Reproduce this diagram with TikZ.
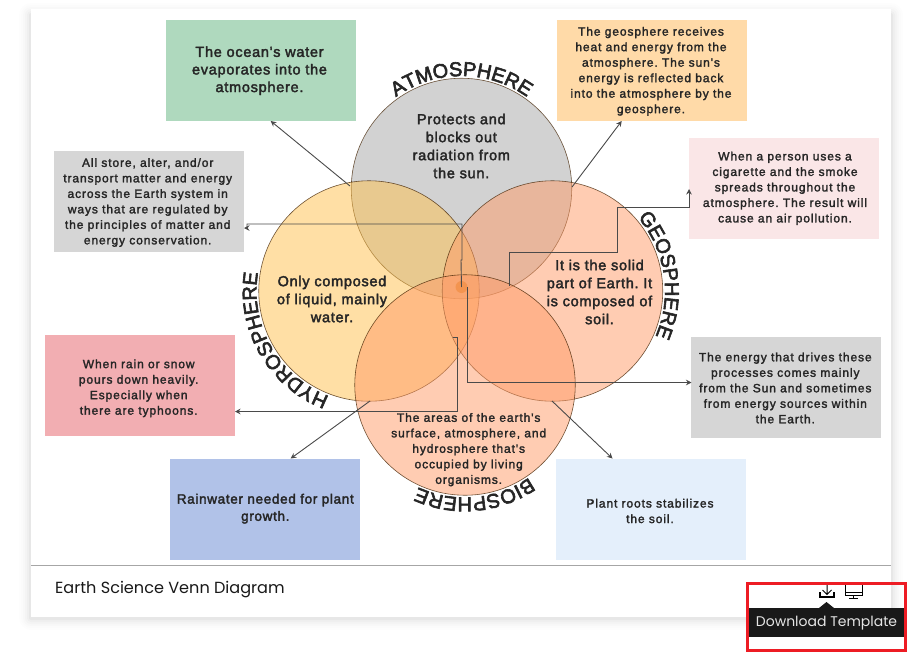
\documentclass[tikz,border=0pt]{standalone}
\usepackage{fontspec}
\setmainfont{Liberation Sans}
\newfontfamily\pop{Poppins}
\newfontfamily\stxt[LetterSpace=7.5,FakeBold=2]{Liberation Sans}
\newfontfamily\btxt[LetterSpace=5,FakeBold=2.5]{Liberation Sans}
\newfontfamily\arcf[FakeBold=3]{Liberation Sans}
\usetikzlibrary{arrows.meta,decorations.text,calc}
\definecolor{ink}{HTML}{262626}
\definecolor{wirec}{HTML}{4A4A4A}
\definecolor{bgreen}{HTML}{AFD9BE}
\definecolor{borange}{HTML}{FFDAA8}
\definecolor{bpink}{HTML}{FAE6E7}
\definecolor{bgrey}{HTML}{D6D6D6}
\definecolor{bred}{HTML}{F2AEB2}
\definecolor{bblue}{HTML}{B1C2E8}
\definecolor{bsky}{HTML}{E4EFFB}
\definecolor{catm}{HTML}{A7A7A7}
\definecolor{chyd}{HTML}{FFC14D}
\definecolor{cgeo}{HTML}{FF9B67}
\definecolor{cdot}{HTML}{F08A3C}
\frenchspacing
\newcommand{\bigtxt}{\btxt\fontsize{14.5}{17.6}\selectfont}
\newcommand{\midtxt}{\btxt\fontsize{14.5}{18}\selectfont}
\newcommand{\smalltxt}{\stxt\fontsize{12}{15.5}\selectfont}
\tikzset{x=1pt,y=1pt,
  infobox/.style={inner sep=0pt,text=ink,align=center,minimum width=190pt,minimum height=101pt},
  venn/.style={circle,inner sep=0pt,minimum size=220.5pt,draw=black!75!orange,line width=.6pt,fill opacity=.5,draw opacity=.75},
  venntext/.style={inner sep=0pt,text=ink,align=center},
  wire/.style={draw=wirec,line width=.9pt,-{Stealth[length=5.5pt,width=5.5pt]}},
  arctext/.style={decorate,decoration={text along path,text align=center,text={|\arcf\fontsize{20}{20}\selectfont\color{ink}|#1}}}
}
\begin{document}
\begin{tikzpicture}
\useasboundingbox (0,-656) rectangle (921,0);
\fill[white] (0,-656) rectangle (921,0);
% card and its soft shadow
\foreach \d/\o in {12/.006,10/.008,8/.01,6/.014,4/.02,2/.03}{
  \fill[black,opacity=\o,rounded corners=\d pt] (31-\d,-9+\d-6) rectangle (891+\d,-617-\d-1);
}
\fill[white] (31,-617) rectangle (891,-9);
\draw[black!35,line width=1pt] (31,-565.5) -- (891,-565.5);
\node[anchor=west,inner sep=0pt,font=\pop\fontsize{16.1}{16}\selectfont,text=black!90] (title) at (55,-590) {Earth Science Venn Diagram};

% boxes
\node[infobox,fill=bgreen] (ocean) at (261,-70.5) {};
\node[infobox,fill=borange] (sun) at (651.5,-70.5) {};
\node[infobox,fill=bpink] (smoke) at (784,-188.5) {};
\node[infobox,fill=bgrey] (store) at (149,-201.5) {};
\node[infobox,fill=bred] (rain) at (140,-385.5) {};
\node[infobox,fill=bgrey] (energy) at (786,-387.5) {};
\node[infobox,fill=bblue] (plant) at (265,-509.5) {};
\node[infobox,fill=bsky] (roots) at (651,-509.5) {};

% circles
\node[venn,fill=catm] (atm) at (461.5,-188.5) {};
\node[venn,fill=chyd] (hyd) at (369,-291) {};
\node[venn,fill=cgeo] (geo) at (552.5,-291) {};
\node[venn,fill=cgeo] (bio) at (465,-385) {};
\node[circle,fill=cdot,fill opacity=.6,minimum size=12pt,inner sep=0pt] (dot) at (461.5,-287) {};

% arc titles
\path[arctext=ATMOSPHERE] ($(atm)+(129:112.5)$) arc[start angle=129,end angle=51,radius=112.5];
\path[arctext=GEOSPHERE] ($(geo)+(41:112.5)$) arc[start angle=41,end angle=-24,radius=112.5];
\path[arctext=HYDROSPHERE] ($(hyd)+(250:112.5)$) arc[start angle=250,end angle=170,radius=112.5];
\path[arctext=BIOSPHERE] ($(bio)+(305:112.5)$) arc[start angle=305,end angle=245,radius=112.5];

% connectors
\coordinate (oceanfoot) at (270.7,-121);
\coordinate (sunfoot) at (621.7,-121);
\coordinate (plantfoot) at (290.7,-458.5);
\coordinate (rootsfoot) at (612.5,-458.5);
\coordinate (smoketip) at (689,-189);
\coordinate (storetip) at (244,-228);
\coordinate (raintip) at (235,-411.5);
\coordinate (energytip) at (691.5,-382.5);
\coordinate (atmhyd) at (350,-186);
\coordinate (atmgeo) at (572,-187);
\coordinate (hydbio) at (370,-401);
\coordinate (geobio) at (552,-401);
\draw[wire] (atmhyd) -- (oceanfoot);
\draw[wire] (atmgeo) -- (sunfoot);
\draw[wire] (hydbio) -- (plantfoot);
\draw[wire] (geobio) -- (rootsfoot);
\draw[wire] (dot.center) -- (461,-260) -- (462,-260) -- (462,-224) -- (247,-224) -- (247,-228) -- (storetip);
\draw[wire] (509,-286) -- (509,-252) -- (617,-252) -- (617,-207) -- (689,-207) -- (smoketip);
\draw[wire] (467,-287) -- (467,-382.5) -- (energytip);
\draw[wire] (453,-337) -- (457,-337) -- (457,-411.5) -- (raintip);

% texts
\node[venntext,font=\midtxt] (t1) at (461.3,-146) {Protects and\\blocks out\\radiation from\\the sun.};
\node[venntext,font=\midtxt] (t2) at (332,-299) {Only composed\\of liquid, mainly\\water.};
\node[venntext,font=\midtxt] (t3) at (599.5,-292) {It is the solid\\part of Earth. It\\is composed of\\soil.};
\node[venntext,font=\smalltxt] (t4) at (468.7,-449.7) {The areas of the earth's\\surface, atmosphere, and\\hydrosphere that's\\occupied by living\\organisms.};
\node[venntext,font=\bigtxt] (t5) at (259.5,-70.7) {The ocean's water\\evaporates into the\\atmosphere.};
\node[venntext,font=\smalltxt] (t6) at (651,-71.3) {The geosphere receives\\heat and energy from the\\atmosphere. The sun's\\energy is reflected back\\into the atmosphere by the\\geosphere.};
\node[venntext,font=\smalltxt] (t7) at (785,-188.3) {When a person uses a\\cigarette and the smoke\\spreads throughout the\\atmosphere. The result will\\cause an air pollution.};
\node[venntext,font=\smalltxt] (t8) at (147.7,-202.5) {All store, alter, and/or\\transport matter and energy\\across the Earth system in\\ways that are regulated by\\the principles of matter and\\energy conservation.};
\node[venntext,font=\smalltxt] (t9) at (138.7,-388.3) {When rain or snow\\pours down heavily.\\Especially when\\there are typhoons.};
\node[venntext,font=\smalltxt] (t10) at (785.3,-388) {The energy that drives these\\processes comes mainly\\from the Sun and sometimes\\from energy sources within\\the Earth.};
\node[venntext,font=\btxt\fontsize{13.5}{17.2}\selectfont] (t11) at (265.3,-508.7) {Rainwater needed for plant\\growth.};
\node[venntext,font=\smalltxt] (t12) at (650,-511) {Plant roots stabilizes\\the soil.};

% toolbar icons
\draw[black,line width=1pt] (827,-583) -- (827,-594) (822.5,-590) -- (827,-594.5) -- (831.5,-590);
\draw[black,line width=1.2pt] (820,-592) -- (820,-597) -- (834,-597) -- (834,-592);
\draw[black,line width=1pt] (845,-583) rectangle (862,-595);
\draw[black,line width=1pt] (845,-592) -- (862,-592) (853.5,-595) -- (853.5,-598) (849,-598) -- (858,-598);
% tooltip
\fill[black!90] (826.5,-602) -- (819,-608) -- (834,-608) -- cycle;
\fill[black!90] (748,-637) rectangle (905,-608);
\node[text=white!90!black,inner sep=0pt,font=\pop\fontsize{14}{14}\selectfont] (tip) at (826.5,-623) {Download Template};
\node[draw={rgb,255:red,237;green,28;blue,36},line width=2.8pt,inner sep=0pt,minimum width=158pt,minimum height=67pt] (mark) at (826.5,-617) {};
\end{tikzpicture}
\end{document}
